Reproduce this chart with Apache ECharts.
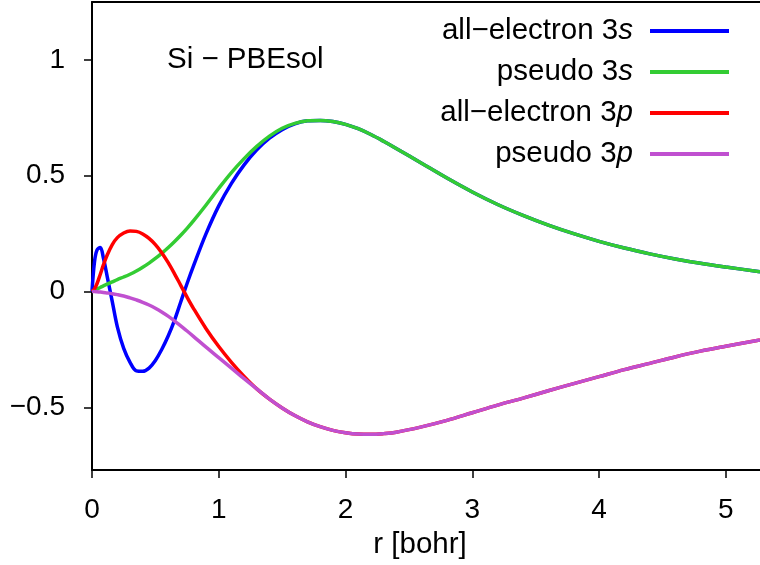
<!DOCTYPE html>
<html>
<head>
<meta charset="utf-8">
<script src="https://cdn.jsdelivr.net/npm/echarts@6/dist/echarts.min.js"></script>
<style>
html,body{margin:0;padding:0;background:#fff;}
#chart{width:760px;height:565px;}
</style>
</head>
<body>
<div id="chart"></div>
<script>
// radius grid [bohr]
const r = [0, 0.02, 0.04, 0.065, 0.09, 0.12, 0.16, 0.2, 0.25, 0.3, 0.35, 0.4, 0.45, 0.5, 0.55, 0.6, 0.65, 0.7, 0.75, 0.8, 0.9, 1.0, 1.1, 1.2, 1.3, 1.4, 1.5, 1.6, 1.7, 1.8, 1.9, 2.0, 2.1, 2.2, 2.3, 2.4, 2.6, 2.8, 3.0, 3.2, 3.4, 3.6, 3.8, 4.0, 4.2, 4.4, 4.6, 4.8, 5.0, 5.27];
const allElectron3s = [0, 0.13, 0.18, 0.19, 0.145, 0.065, -0.043, -0.152, -0.245, -0.305, -0.342, -0.344, -0.33, -0.297, -0.25, -0.193, -0.125, -0.045, 0.035, 0.11, 0.25, 0.37, 0.467, 0.547, 0.612, 0.662, 0.699, 0.724, 0.737, 0.739, 0.734, 0.722, 0.703, 0.678, 0.649, 0.618, 0.554, 0.49, 0.43, 0.376, 0.329, 0.287, 0.25, 0.217, 0.188, 0.163, 0.141, 0.122, 0.106, 0.086];
const pseudo3s = [0, 0.006, 0.011, 0.018, 0.025, 0.032, 0.042, 0.052, 0.063, 0.075, 0.089, 0.105, 0.123, 0.143, 0.165, 0.189, 0.215, 0.243, 0.273, 0.305, 0.374, 0.446, 0.514, 0.574, 0.627, 0.671, 0.705, 0.726, 0.737, 0.739, 0.734, 0.722, 0.703, 0.678, 0.649, 0.618, 0.554, 0.49, 0.43, 0.376, 0.329, 0.287, 0.25, 0.217, 0.188, 0.163, 0.141, 0.122, 0.106, 0.086];
const allElectron3p = [0, 0.012, 0.035, 0.074, 0.115, 0.158, 0.203, 0.233, 0.253, 0.262, 0.26, 0.249, 0.23, 0.203, 0.168, 0.126, 0.078, 0.027, -0.024, -0.072, -0.16, -0.237, -0.305, -0.366, -0.42, -0.464, -0.502, -0.535, -0.562, -0.583, -0.599, -0.609, -0.615, -0.616, -0.613, -0.607, -0.584, -0.556, -0.523, -0.49, -0.46, -0.428, -0.397, -0.367, -0.337, -0.31, -0.282, -0.257, -0.236, -0.209];
const pseudo3p = [0, 0, -0.001, -0.002, -0.004, -0.006, -0.009, -0.013, -0.019, -0.027, -0.036, -0.046, -0.058, -0.072, -0.088, -0.106, -0.126, -0.148, -0.17, -0.193, -0.24, -0.285, -0.33, -0.376, -0.42, -0.464, -0.502, -0.535, -0.562, -0.583, -0.599, -0.609, -0.615, -0.616, -0.613, -0.607, -0.584, -0.556, -0.523, -0.49, -0.46, -0.428, -0.397, -0.367, -0.337, -0.31, -0.282, -0.257, -0.236, -0.209];

const xTicks = [0, 1, 2, 3, 4, 5];
const yTicks = [-0.5, 0, 0.5, 1];
const seriesNames = ['all−electron 3s', 'pseudo 3s', 'all−electron 3p', 'pseudo 3p'];
const seriesValues = [allElectron3s, pseudo3s, allElectron3p, pseudo3p];
const colors = ['#0000ff', '#33cc33', '#ff0000', '#c050d0'];

const FONT = '"Liberation Sans", Arial, Helvetica, sans-serif';
const fmtNum = v => String(v).replace('-', '\u2212');

const chart = echarts.init(document.getElementById('chart'), null, {renderer: 'canvas'});

const legendTops = [16, 57, 98, 139];
const legends = seriesNames.map((name, i) => ({
  data: [name],
  right: 31,
  top: legendTops[i],
  padding: 0,
  align: 'right',
  icon: 'rect',
  itemWidth: 79,
  itemHeight: 4,
  selectedMode: false,
  formatter: n => '{n|' + n.slice(0, -1) + '}{i|' + n.slice(-1) + '}',
  textStyle: {
    fontFamily: FONT, fontSize: 29.5, color: '#000', lineHeight: 30,
    padding: [0, 12, 0, 0],
    rich: {
      n: {fontFamily: FONT, fontSize: 29.5, color: '#000', lineHeight: 30},
      i: {fontFamily: FONT, fontSize: 29.5, color: '#000', fontStyle: 'italic', lineHeight: 30}
    }
  }
}));

const option = {
  backgroundColor: '#fff',
  animation: false,
  title: {
    text: 'Si \u2212 PBEsol',
    left: 167, top: 45, padding: 0,
    textStyle: {fontFamily: FONT, fontSize: 29.5, fontWeight: 'normal', color: '#000', lineHeight: 30}
  },
  legend: legends,
  grid: {left: 92, right: 0, top: 2, bottom: 93, containLabel: false},
  xAxis: [{
    type: 'value', min: 0, max: 5.27,
    name: 'r [bohr]', nameLocation: 'middle', nameGap: 60,
    nameTextStyle: {fontFamily: FONT, fontSize: 29.5, color: '#000', lineHeight: 30, padding: [0, 12, 0, 0]},
    axisLine: {show: true, onZero: false, lineStyle: {color: '#000', width: 2}},
    axisTick: {show: true, inside: false, length: 8, customValues: xTicks, lineStyle: {color: '#000', width: 1.5}},
    axisLabel: {show: true, margin: 26, customValues: xTicks, formatter: fmtNum, fontFamily: FONT, fontSize: 28, color: '#000'},
    splitLine: {show: false}
  }, {
    type: 'value', position: 'top', min: 0, max: 5.27,
    axisLine: {show: true, onZero: false, lineStyle: {color: '#000', width: 2}},
    axisTick: {show: false}, axisLabel: {show: false}, splitLine: {show: false}
  }],
  yAxis: {
    type: 'value', min: -0.77, max: 1.25,
    axisLine: {show: true, onZero: false, lineStyle: {color: '#000', width: 2}},
    axisTick: {show: true, inside: false, length: 8, customValues: yTicks, lineStyle: {color: '#000', width: 1.5}},
    axisLabel: {show: true, margin: 27, customValues: yTicks, formatter: fmtNum, fontFamily: FONT, fontSize: 28, color: '#000'},
    splitLine: {show: false}
  },
  series: seriesNames.map((name, i) => ({
    name: name,
    type: 'line',
    xAxisIndex: 0,
    data: r.map((x, k) => [x, seriesValues[i][k]]),
    showSymbol: false,
    symbol: 'none',
    smooth: 0.35,
    clip: true,
    color: colors[i],
    lineStyle: {color: colors[i], width: 3.5},
    emphasis: {disabled: true}
  }))
};
chart.setOption(option);
</script>
</body>
</html>
